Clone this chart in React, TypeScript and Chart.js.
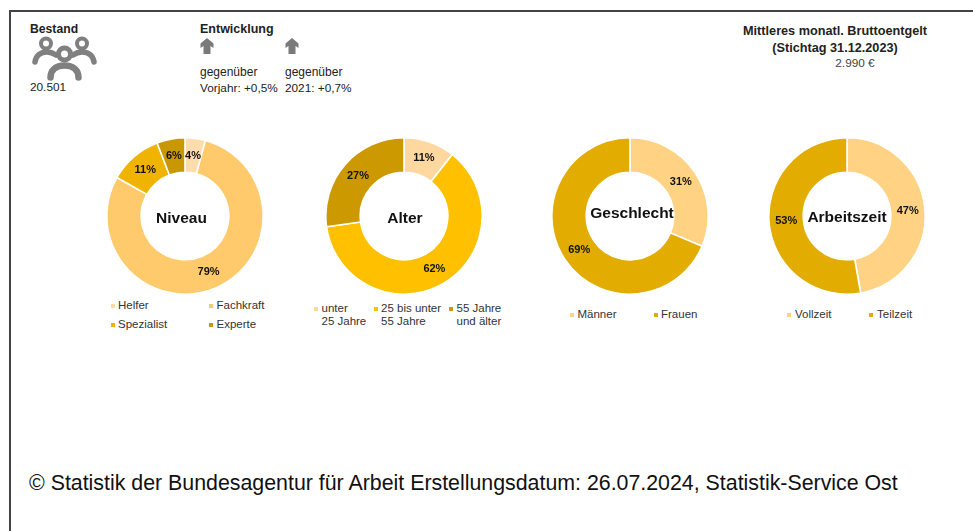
import React, { useEffect, useRef } from "react";
import { Chart, registerables } from "chart.js";

Chart.register(...registerables);

const FONT = '"Liberation Sans", Arial, sans-serif';

// ---- data ----
const niveauLabels = ["Helfer", "Fachkraft", "Spezialist", "Experte"];
const niveauValues = [4.2, 79, 11, 5.8];
const alterLabels = ["unter\n25 Jahre", "25 bis unter\n55 Jahre", "55 Jahre\nund älter"];
const alterValues = [10.6, 62.2, 27.2];
const geschlechtLabels = ["Männer", "Frauen"];
const geschlechtValues = [31.3, 68.7];
const arbeitszeitLabels = ["Vollzeit", "Teilzeit"];
const arbeitszeitValues = [47.2, 52.8];
const bestand = "20.501";
const entwicklung = ["Vorjahr: +0,5%", "2021: +0,7%"];
const entgelt = "2.990 €";

// ---- styles ----
const niveauColors = ["#FFDCAE", "#FFCA6B", "#F0B400", "#C99700"];
const alterColors = ["#FFD8A0", "#FFC000", "#CC9900"];
const zweiColors = ["#FFD284", "#E2AC00"];

const DONUT_SIZE = 158;

const valueLabelPlugin = {
  id: "valueLabels",
  afterDatasetsDraw(chart: any) {
    const { ctx } = chart;
    const meta = chart.getDatasetMeta(0);
    const values = chart.data.datasets[0].data;
    ctx.save();
    ctx.font = `bold 11px ${FONT}`;
    ctx.fillStyle = "#111";
    ctx.textAlign = "center";
    ctx.textBaseline = "middle";
    meta.data.forEach((arc: any, i: number) => {
      const p = arc.getCenterPoint();
      ctx.fillText(`${Math.round(values[i])}%`, p.x, p.y);
    });
    ctx.restore();
  },
};

function Donut(props: {
  title: string;
  labels: string[];
  values: number[];
  colors: string[];
  cx: number;
  cy: number;
  titleX: number;
  titleY: number;
  legend: { sx: number; tx: number; y: number }[];
}) {
  const ref = useRef<HTMLCanvasElement>(null);
  useEffect(() => {
    const chart = new Chart(ref.current as HTMLCanvasElement, {
      type: "doughnut",
      data: {
        labels: props.labels.map((l) => l.replace("\n", " ")),
        datasets: [
          {
            data: props.values,
            backgroundColor: props.colors,
            borderColor: "#ffffff",
            borderWidth: 1.6,
          },
        ],
      },
      options: {
        animation: false,
        responsive: false,
        devicePixelRatio: 1,
        cutout: "56%",
        layout: { padding: 0 },
        plugins: { legend: { display: false }, tooltip: { enabled: false } },
      },
      plugins: [valueLabelPlugin],
    } as any);
    return () => chart.destroy();
  }, []);
  return (
    <>
      <canvas
        ref={ref}
        width={DONUT_SIZE}
        height={DONUT_SIZE}
        style={{
          position: "absolute",
          left: props.cx - DONUT_SIZE / 2,
          top: props.cy - DONUT_SIZE / 2,
          width: DONUT_SIZE,
          height: DONUT_SIZE,
        }}
      />
      <div
        style={{
          position: "absolute",
          left: props.titleX - 60,
          top: props.titleY - 10,
          width: 120,
          lineHeight: "20px",
          textAlign: "center",
          fontWeight: "bold",
          fontSize: 15.5,
          color: "#111",
        }}
      >
        {props.title}
      </div>
      {props.labels.map((label, i) => {
        const pos = props.legend[i];
        return (
          <React.Fragment key={label}>
            <div
              style={{
                position: "absolute",
                left: pos.sx,
                top: pos.y - 2,
                width: 4,
                height: 4,
                background: props.colors[i],
              }}
            />
            <div
              style={{
                position: "absolute",
                left: pos.tx,
                top: pos.y - 7,
                fontSize: 11.5,
                lineHeight: "13.5px",
                color: "#333",
                whiteSpace: "pre",
              }}
            >
              {label}
            </div>
          </React.Fragment>
        );
      })}
    </>
  );
}

function Arrow({ x }: { x: number }) {
  return (
    <svg
      style={{ position: "absolute", left: x - 8, top: 37 }}
      width={16}
      height={18}
      viewBox="0 0 16 18"
    >
      <path d="M8 1 L14.5 6.5 L14.5 11 L11.5 9 L11.5 17 L4.5 17 L4.5 9 L1.5 11 L1.5 6.5 Z" fill="#7a7a7a" />
    </svg>
  );
}

function People() {
  const stroke = "#808080";
  return (
    <svg style={{ position: "absolute", left: 28, top: 32 }} width={72} height={52} viewBox="28 32 72 52">
      <g fill="none" stroke={stroke} strokeLinecap="round">
        <circle cx={46} cy={43.5} r={5} strokeWidth={4} />
        <circle cx={82} cy={43.5} r={5} strokeWidth={4} />
        <path d="M35 62 C36 55 41 52 47 52 C50 52 53 53 56 55" strokeWidth={5.5} />
        <path d="M94 62 C93 55 88 52 82 52 C79 52 76 53 73 55" strokeWidth={5.5} />
        <circle cx={64.5} cy={54} r={6} strokeWidth={5} />
        <path d="M50.5 77.5 C50.5 70 56 65.5 64.5 65.5 C73 65.5 78.5 70 78.5 77.5" strokeWidth={6.5} />
      </g>
    </svg>
  );
}

function Text(props: {
  x: number;
  y: number;
  size: number;
  bold?: boolean;
  center?: boolean;
  color?: string;
  children: React.ReactNode;
}) {
  return (
    <div
      style={{
        position: "absolute",
        left: props.center ? props.x - 150 : props.x,
        width: props.center ? 300 : undefined,
        top: props.y - 8,
        lineHeight: "16px",
        fontSize: props.size,
        fontWeight: props.bold ? "bold" : "normal",
        textAlign: props.center ? "center" : "left",
        color: props.color || "#222",
        whiteSpace: "nowrap",
      }}
    >
      {props.children}
    </div>
  );
}

export default function App() {
  return (
    <div
      style={{
        position: "absolute",
        left: 0,
        top: 0,
        width: 973,
        height: 531,
        overflow: "hidden",
        background: "#fff",
        fontFamily: FONT,
      }}
    >
      <div style={{ position: "absolute", left: 9, top: 10, width: 964, height: 2, background: "#444" }} />
      <div style={{ position: "absolute", left: 9, top: 10, width: 1.5, height: 521, background: "#444" }} />

      <Text x={30} y={29} size={12.2} bold>Bestand</Text>
      <People />
      <Text x={30} y={87} size={11.8}>{bestand}</Text>

      <Text x={200} y={29} size={12.5} bold>Entwicklung</Text>
      <Arrow x={206.5} />
      <Arrow x={291.5} />
      <Text x={200} y={72} size={12}>gegenüber</Text>
      <Text x={200} y={88} size={11.8}>{entwicklung[0]}</Text>
      <Text x={285} y={72} size={12}>gegenüber</Text>
      <Text x={285} y={88} size={11.8}>{entwicklung[1]}</Text>

      <Text x={835} y={31} size={12.7} bold center>Mittleres monatl. Bruttoentgelt</Text>
      <Text x={835} y={47.5} size={12.7} bold center>(Stichtag 31.12.2023)</Text>
      <Text x={855} y={63} size={11.8} center color="#444">{entgelt}</Text>

      <Donut
        title="Niveau"
        labels={niveauLabels}
        values={niveauValues}
        colors={niveauColors}
        cx={185}
        cy={216}
        titleX={181.5}
        titleY={217.5}
        legend={[
          { sx: 111, tx: 118, y: 305.5 },
          { sx: 209, tx: 216.5, y: 305.5 },
          { sx: 111, tx: 118, y: 325 },
          { sx: 209, tx: 216.5, y: 325 },
        ]}
      />
      <Donut
        title="Alter"
        labels={alterLabels}
        values={alterValues}
        colors={alterColors}
        cx={404}
        cy={216}
        titleX={405}
        titleY={217.5}
        legend={[
          { sx: 314, tx: 321.5, y: 308.5 },
          { sx: 374, tx: 381, y: 308.5 },
          { sx: 449, tx: 456.5, y: 308.5 },
        ]}
      />
      <Donut
        title="Geschlecht"
        labels={geschlechtLabels}
        values={geschlechtValues}
        colors={zweiColors}
        cx={630}
        cy={215.5}
        titleX={632}
        titleY={213}
        legend={[
          { sx: 570, tx: 577.5, y: 314.5 },
          { sx: 654, tx: 661, y: 314.5 },
        ]}
      />
      <Donut
        title="Arbeitszeit"
        labels={arbeitszeitLabels}
        values={arbeitszeitValues}
        colors={zweiColors}
        cx={847}
        cy={215.5}
        titleX={847}
        titleY={217}
        legend={[
          { sx: 787, tx: 795, y: 314.5 },
          { sx: 869, tx: 877, y: 314.5 },
        ]}
      />

      <div
        style={{
          position: "absolute",
          left: 29,
          top: 471,
          fontSize: 21.35,
          lineHeight: "24px",
          color: "#111",
          whiteSpace: "nowrap",
        }}
      >
        © Statistik der Bundesagentur für Arbeit Erstellungsdatum: 26.07.2024, Statistik-Service Ost
      </div>
    </div>
  );
}
